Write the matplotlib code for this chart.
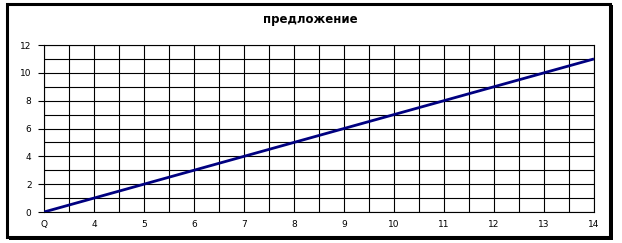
import numpy as np
import matplotlib.pyplot as plt
from matplotlib.patches import Rectangle

plt.rcParams['font.family'] = ['DejaVu Sans']

# данные
categories = ['Q', '4', '5', '6', '7', '8', '9', '10', '11', '12', '13', '14']
supply = [0, 1, 2, 3, 4, 5, 6, 7, 8, 9, 10, 11]
title = 'предложение'

W, H = 622, 243
fig = plt.figure(figsize=(W / 100, H / 100), dpi=100)

# рамка с тенью
fig.patches.append(Rectangle((9 / W, 1 - 240 / H), 604 / W, 235 / H,
                             transform=fig.transFigure, facecolor='black',
                             edgecolor='none', zorder=0))
fig.patches.append(Rectangle((7 / W, 1 - 237 / H), 603 / W, 233 / H,
                             transform=fig.transFigure, facecolor='white',
                             edgecolor='black', linewidth=2.2, zorder=1))

ax = fig.add_axes([44 / W, 1 - 212 / H, 550 / W, 167 / H])
ax.set_zorder(2)
ax.patch.set_alpha(0)

x = np.arange(len(categories))
ax.plot(x, supply, color='#000080', linewidth=2, zorder=3, solid_capstyle='butt')

ax.set_xlim(0, len(categories) - 1)
ax.set_ylim(0, 12)
ax.set_xticks(x)
ax.set_xticklabels(categories)
ax.set_xticks(np.arange(0.5, len(categories) - 1, 1), minor=True)
ax.set_yticks(np.arange(0, 13, 2))
ax.set_yticks(np.arange(1, 12, 2), minor=True)

ax.grid(True, which='both', color='black', linewidth=0.8)
for s in ax.spines.values():
    s.set_linewidth(0.8)

ax.tick_params(axis='x', which='both', length=0, labelsize=6.5, pad=6)
ax.tick_params(axis='y', which='major', length=4, width=0.8, labelsize=6.5, pad=5)
ax.tick_params(axis='y', which='minor', length=0)

fig.text(310 / W, 1 - 19 / H, title, ha='center', va='center',
         fontsize=8.5, fontweight='bold')

fig.savefig('out.png', dpi=100)
